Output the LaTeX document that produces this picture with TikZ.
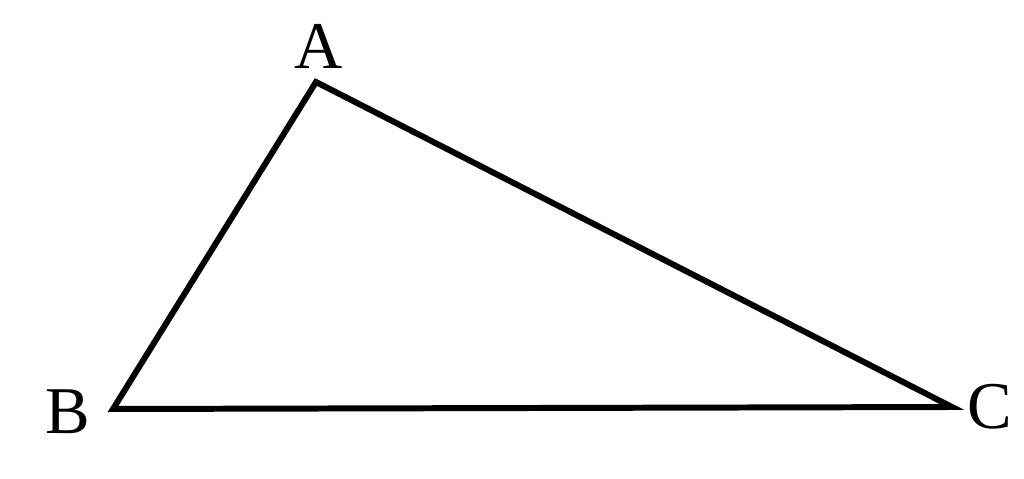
\documentclass[tikz,border=0pt]{standalone}
\usepackage{fontspec}
\setmainfont{Liberation Serif}
\usetikzlibrary{positioning}
\begin{document}
\begin{tikzpicture}
[x=0.01cm,y=-0.01cm,
 v/.style={circle,inner sep=0pt,minimum size=0pt},
 lab/.style={font=\fontsize{19}{22}\selectfont,inner sep=0pt}]
\useasboundingbox (0,0) rectangle (1024,479);
\node[v] (A) at (316,82) {};
\node[v] (B) at (113,409) {};
\node[v] (C) at (952,407) {};
\node[lab] (lA) at (319,46) {A};
\node[lab] (lB) at (68,412) {B};
\node[lab] (lC) at (990,407) {C};
\draw[line width=1.7pt,line join=miter] (A.center) -- (B.center) -- (C.center) -- cycle;
\end{tikzpicture}
\end{document}
